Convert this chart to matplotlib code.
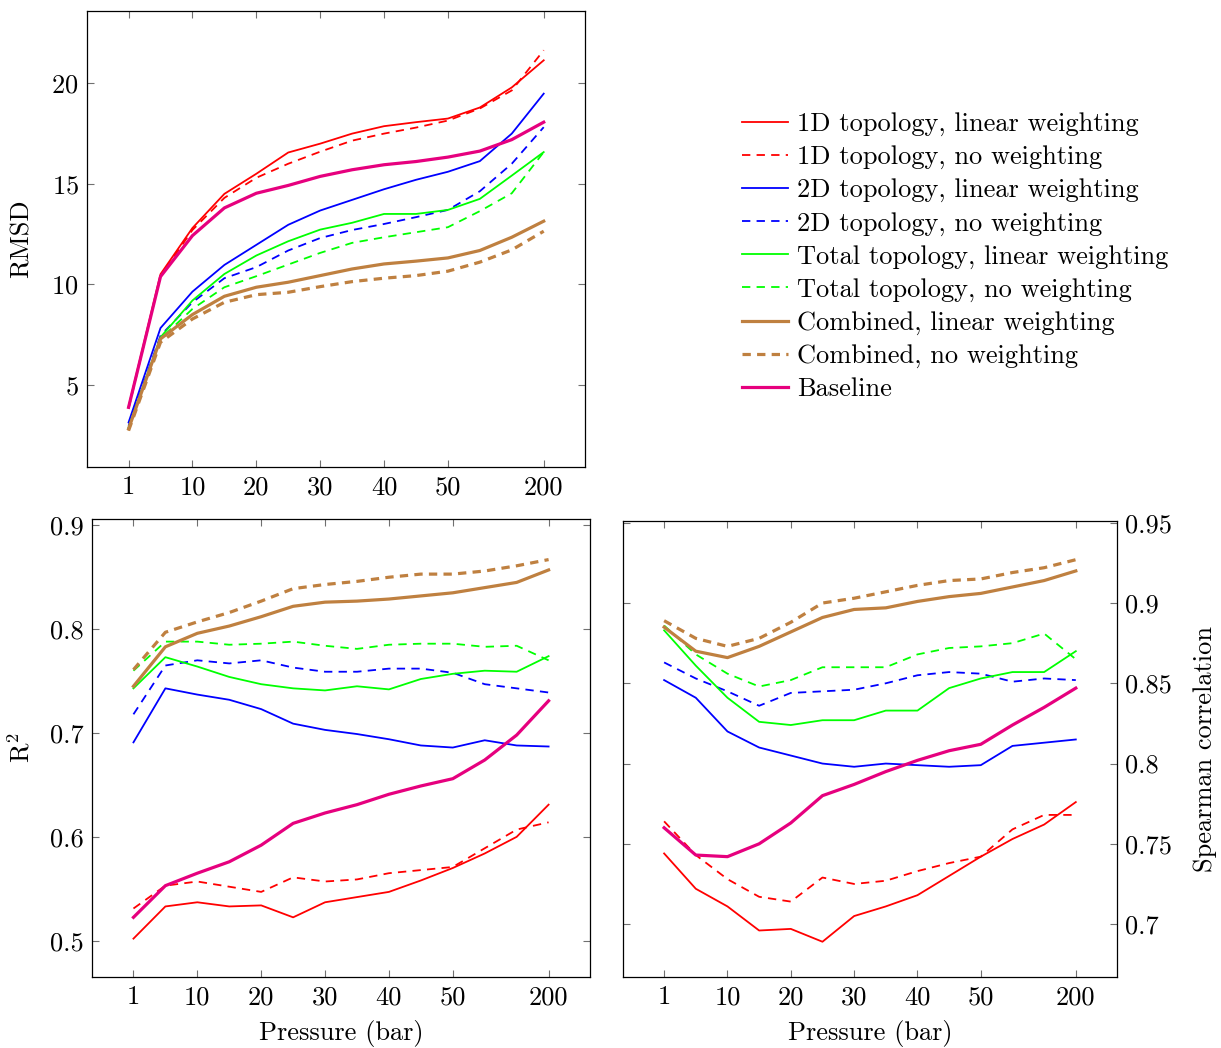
import numpy as np
import matplotlib
matplotlib.use("Agg")
import matplotlib.pyplot as plt

plt.rcParams['font.family'] = 'serif'
plt.rcParams['font.serif'] = ['cmr10']
plt.rcParams['mathtext.fontset'] = 'cm'
plt.rcParams['axes.formatter.use_mathtext'] = True
plt.rcParams['lines.scale_dashes'] = False

# pressures (bar), plotted at equal spacing
pressures = [1, 5, 10, 15, 20, 25, 30, 35, 40, 45, 50, 100, 150, 200]
tick_pressures = [1, 10, 20, 30, 40, 50, 200]

labels = ["1D topology, linear weighting", "1D topology, no weighting",
          "2D topology, linear weighting", "2D topology, no weighting",
          "Total topology, linear weighting", "Total topology, no weighting",
          "Combined, linear weighting", "Combined, no weighting", "Baseline"]

# RMSD
rmsd_1d_lin = [3.9, 10.5, 12.8, 14.5, 15.5, 16.56, 17.0, 17.5, 17.87, 18.07, 18.25, 18.8, 19.8, 21.15]
rmsd_1d_no = [3.8, 10.4, 12.7, 14.3, 15.3, 16.0, 16.6, 17.15, 17.5, 17.8, 18.15, 18.75, 19.65, 21.65]
rmsd_2d_lin = [3.12, 7.82, 9.63, 10.96, 11.96, 12.96, 13.67, 14.2, 14.73, 15.2, 15.6, 16.13, 17.5, 19.49]
rmsd_2d_no = [2.95, 7.44, 9.1, 10.3, 10.85, 11.68, 12.3, 12.7, 13.0, 13.34, 13.7, 14.63, 16.0, 17.82]
rmsd_tot_lin = [2.87, 7.36, 9.19, 10.51, 11.43, 12.14, 12.72, 13.06, 13.5, 13.5, 13.7, 14.25, 15.41, 16.58]
rmsd_tot_no = [2.79, 7.28, 8.77, 9.85, 10.4, 10.98, 11.56, 12.06, 12.34, 12.59, 12.84, 13.64, 14.53, 16.58]
rmsd_comb_lin = [2.8, 7.28, 8.49, 9.4, 9.85, 10.1, 10.43, 10.76, 11.01, 11.15, 11.31, 11.68, 12.34, 13.14]
rmsd_comb_no = [2.71, 7.11, 8.27, 9.1, 9.48, 9.6, 9.88, 10.13, 10.3, 10.43, 10.65, 11.1, 11.71, 12.64]
rmsd_base = [3.87, 10.38, 12.42, 13.8, 14.53, 14.92, 15.37, 15.7, 15.95, 16.11, 16.33, 16.63, 17.2, 18.07]

# R^2
r2_1d_lin = [0.502, 0.533, 0.537, 0.533, 0.534, 0.5225, 0.537, 0.542, 0.547, 0.558, 0.570, 0.584, 0.600, 0.631]
r2_1d_no = [0.531, 0.553, 0.557, 0.552, 0.547, 0.561, 0.557, 0.559, 0.565, 0.568, 0.571, 0.589, 0.607, 0.614]
r2_2d_lin = [0.691, 0.743, 0.737, 0.732, 0.723, 0.709, 0.703, 0.699, 0.694, 0.688, 0.686, 0.693, 0.688, 0.687]
r2_2d_no = [0.718, 0.765, 0.770, 0.767, 0.770, 0.763, 0.759, 0.759, 0.762, 0.762, 0.758, 0.747, 0.743, 0.739]
r2_tot_lin = [0.743, 0.773, 0.764, 0.754, 0.747, 0.743, 0.741, 0.745, 0.742, 0.752, 0.757, 0.760, 0.759, 0.774]
r2_tot_no = [0.760, 0.788, 0.788, 0.785, 0.786, 0.788, 0.784, 0.781, 0.785, 0.786, 0.786, 0.783, 0.784, 0.770]
r2_comb_lin = [0.745, 0.783, 0.796, 0.803, 0.812, 0.822, 0.826, 0.827, 0.829, 0.832, 0.835, 0.840, 0.845, 0.857]
r2_comb_no = [0.761, 0.797, 0.807, 0.816, 0.827, 0.839, 0.843, 0.846, 0.850, 0.853, 0.853, 0.856, 0.861, 0.867]
r2_base = [0.5225, 0.553, 0.565, 0.576, 0.592, 0.613, 0.623, 0.631, 0.641, 0.649, 0.656, 0.674, 0.698, 0.731]

# Spearman correlation
sp_1d_lin = [0.744, 0.722, 0.711, 0.696, 0.697, 0.689, 0.705, 0.711, 0.718, 0.730, 0.742, 0.753, 0.762, 0.776]
sp_1d_no = [0.764, 0.743, 0.728, 0.717, 0.714, 0.729, 0.725, 0.727, 0.733, 0.738, 0.742, 0.759, 0.768, 0.768]
sp_2d_lin = [0.852, 0.841, 0.820, 0.810, 0.805, 0.800, 0.798, 0.800, 0.799, 0.798, 0.799, 0.811, 0.813, 0.815]
sp_2d_no = [0.863, 0.853, 0.845, 0.836, 0.844, 0.845, 0.846, 0.850, 0.855, 0.857, 0.856, 0.851, 0.853, 0.852]
sp_tot_lin = [0.883, 0.861, 0.841, 0.826, 0.824, 0.827, 0.827, 0.833, 0.833, 0.847, 0.853, 0.857, 0.857, 0.870]
sp_tot_no = [0.886, 0.868, 0.856, 0.848, 0.852, 0.860, 0.860, 0.860, 0.868, 0.872, 0.873, 0.875, 0.881, 0.865]
sp_comb_lin = [0.885, 0.870, 0.866, 0.873, 0.882, 0.891, 0.896, 0.897, 0.901, 0.904, 0.906, 0.910, 0.914, 0.920]
sp_comb_no = [0.889, 0.878, 0.873, 0.878, 0.888, 0.900, 0.903, 0.907, 0.911, 0.914, 0.915, 0.919, 0.922, 0.927]
sp_base = [0.760, 0.743, 0.742, 0.750, 0.763, 0.780, 0.787, 0.795, 0.802, 0.808, 0.812, 0.824, 0.835, 0.847]

colors = ['#ff0000', '#ff0000', '#0000ff', '#0000ff', '#00ff00', '#00ff00',
          '#bf8040', '#bf8040', '#e6007e']
dashed = [False, True, False, True, False, True, False, True, False]
widths = [1.3, 1.3, 1.3, 1.3, 1.3, 1.3, 2.3, 2.3, 2.3]

x = np.arange(len(pressures))
tick_idx = [pressures.index(p) for p in tick_pressures]
FS = 19


def draw(ax, series):
    for s, c, d, w, lab in zip(series, colors, dashed, widths, labels):
        if d:
            ax.plot(x, s, color=c, lw=w, dashes=(6, 4.5), label=lab)
        else:
            ax.plot(x, s, color=c, lw=w, label=lab)
    ax.set_xlim(-1.3, 14.3)
    ax.set_xticks(tick_idx)
    ax.set_xticklabels([str(p) for p in tick_pressures])
    ax.tick_params(direction='in', length=5, width=0.8, color='#707070',
                   top=True, right=True, labelsize=FS, pad=6)
    for sp in ax.spines.values():
        sp.set_linewidth(0.9)


fig = plt.figure(figsize=(12.21, 10.48), dpi=100)

ax1 = fig.add_axes([0.0713, 0.5544, 0.408, 0.435])
draw(ax1, [rmsd_1d_lin, rmsd_1d_no, rmsd_2d_lin, rmsd_2d_no, rmsd_tot_lin,
           rmsd_tot_no, rmsd_comb_lin, rmsd_comb_no, rmsd_base])
ax1.set_ylim(0.9, 23.6)
ax1.set_yticks([5, 10, 15, 20])
ax1.set_ylabel("RMSD", fontsize=FS, labelpad=13)

ax2 = fig.add_axes([0.0753, 0.0677, 0.408, 0.437])
draw(ax2, [r2_1d_lin, r2_1d_no, r2_2d_lin, r2_2d_no, r2_tot_lin,
           r2_tot_no, r2_comb_lin, r2_comb_no, r2_base])
ax2.set_ylim(0.465, 0.906)
ax2.set_yticks([0.5, 0.6, 0.7, 0.8, 0.9])
ax2.set_yticklabels(["0.5", "0.6", "0.7", "0.8", "0.9"])
ax2.set_ylabel("R$^2$", fontsize=FS, labelpad=11)
ax2.set_xlabel("Pressure (bar)", fontsize=FS, labelpad=8)

ax3 = fig.add_axes([0.5102, 0.0677, 0.4046, 0.435])
draw(ax3, [sp_1d_lin, sp_1d_no, sp_2d_lin, sp_2d_no, sp_tot_lin,
           sp_tot_no, sp_comb_lin, sp_comb_no, sp_base])
ax3.set_ylim(0.667, 0.951)
ax3.set_yticks([0.7, 0.75, 0.8, 0.85, 0.9, 0.95])
ax3.set_yticklabels(["0.7", "0.75", "0.8", "0.85", "0.9", "0.95"])
ax3.yaxis.tick_right()
ax3.yaxis.set_label_position("right")
ax3.tick_params(left=True, labelleft=False, labelright=True)
ax3.set_ylabel("Spearman correlation", fontsize=FS, labelpad=15)
ax3.set_xlabel("Pressure (bar)", fontsize=FS, labelpad=8)

handles, labs = ax1.get_legend_handles_labels()
fig.legend(handles, labs, loc='upper left', bbox_to_anchor=(0.6077, 0.893),
           frameon=False, fontsize=FS, handlelength=1.75, handletextpad=0.35,
           labelspacing=0.35, borderpad=0, borderaxespad=0)

fig.savefig("out.png", dpi=100)
